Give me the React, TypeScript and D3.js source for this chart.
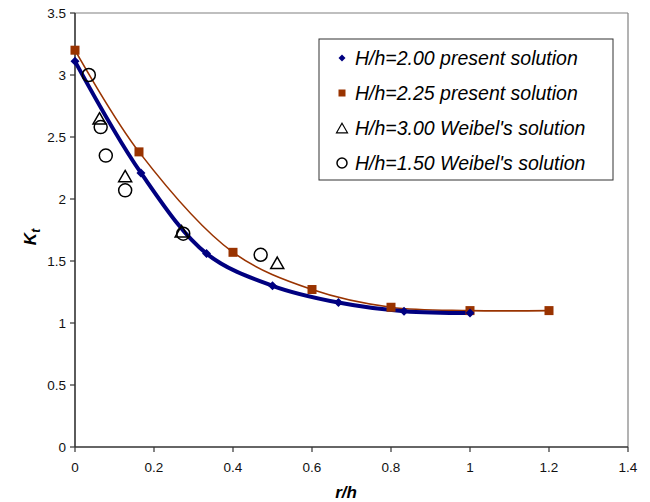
import React from "react";
import * as d3 from "d3";

const xTicks = [0, 0.2, 0.4, 0.6, 0.8, 1, 1.2, 1.4];
const yTicks = [0, 0.5, 1, 1.5, 2, 2.5, 3, 3.5];

const blueX = [0, 0.167, 0.333, 0.5, 0.667, 0.833, 1.0];
const blueY = [3.11, 2.21, 1.56, 1.3, 1.165, 1.095, 1.08];

const orangeX = [0, 0.162, 0.4, 0.6, 0.8, 1.0, 1.2];
const orangeY = [3.2, 2.38, 1.57, 1.27, 1.127, 1.1, 1.1];

const triX = [0.062, 0.127, 0.27, 0.512];
const triY = [2.65, 2.185, 1.74, 1.486];

const circX = [0.035, 0.065, 0.078, 0.127, 0.274, 0.47];
const circY = [3.0, 2.58, 2.35, 2.07, 1.72, 1.55];

const legendLabels = [
  "H/h=2.00 present solution",
  "H/h=2.25 present solution",
  "H/h=3.00 Weibel's solution",
  "H/h=1.50 Weibel's solution",
];

const BLUE = "#000080";
const ORANGE = "#993300";
const FONT = "'Liberation Sans', Arial, sans-serif";

export default function App() {
  const W = 650;
  const H = 502;
  const x = d3.scaleLinear().domain([0, 1.4]).range([75, 628]);
  const y = d3.scaleLinear().domain([0, 3.5]).range([447, 13]);
  const fmt = d3.format("~g");

  const line = d3
    .line<[number, number]>()
    .x((d) => x(d[0]))
    .y((d) => y(d[1]))
    .curve(d3.curveCatmullRom.alpha(0.5));

  const blue: [number, number][] = blueX.map((v, i) => [v, blueY[i]]);
  const orange: [number, number][] = orangeX.map((v, i) => [v, orangeY[i]]);

  const diamond = (cx: number, cy: number, r: number) =>
    `M${cx},${cy - r}L${cx + r},${cy}L${cx},${cy + r}L${cx - r},${cy}Z`;
  const triangle = (cx: number, cy: number, s: number) => {
    const h = s * 0.87;
    return `M${cx},${cy - h / 2}L${cx + s / 2},${cy + h / 2}L${cx - s / 2},${cy + h / 2}Z`;
  };

  const legX = 319;
  const legY = 39;
  const legW = 294;
  const legH = 141;
  const rowY = [58, 93, 128, 163];
  const markX = 342;
  const textX = 355;

  return (
    <svg
      width={W}
      height={H}
      style={{ position: "absolute", left: 0, top: 0, background: "#fff" }}
      fontFamily={FONT}
    >
      <rect x={0} y={0} width={W} height={H} fill="#fff" />
      {/* frame top/right */}
      <line x1={x(0)} x2={x(1.4)} y1={y(3.5)} y2={y(3.5)} stroke="#808080" strokeWidth={1.2} />
      <line x1={x(1.4)} x2={x(1.4)} y1={y(3.5)} y2={y(0)} stroke="#808080" strokeWidth={1.2} />
      {/* axes */}
      <line x1={x(0)} x2={x(0)} y1={y(3.5)} y2={y(0)} stroke="#333" strokeWidth={1.6} />
      <line x1={x(0)} x2={x(1.4)} y1={y(0)} y2={y(0)} stroke="#333" strokeWidth={1.6} />
      {yTicks.map((t) => (
        <g key={"y" + t}>
          <line x1={x(0) - 5} x2={x(0)} y1={y(t)} y2={y(t)} stroke="#333" strokeWidth={1.2} />
          <text x={x(0) - 9} y={y(t)} dy="0.35em" textAnchor="end" fontSize={13.5} fill="#111">
            {fmt(t)}
          </text>
        </g>
      ))}
      {xTicks.map((t) => (
        <g key={"x" + t}>
          <line x1={x(t)} x2={x(t)} y1={y(0)} y2={y(0) + 5} stroke="#333" strokeWidth={1.2} />
          <text x={x(t)} y={y(0) + 20} dy="0.35em" textAnchor="middle" fontSize={13.5} fill="#111">
            {fmt(t)}
          </text>
        </g>
      ))}
      {/* axis titles */}
      <text x={346} y={492} dy="0.35em" textAnchor="middle" fontSize={17} fontWeight="bold" fontStyle="italic">
        r/h
      </text>
      <text
        transform={`translate(30,237) rotate(-90)`}
        textAnchor="middle"
        fontSize={17}
        fontWeight="bold"
        fontStyle="italic"
        dy="0.35em"
      >
        K<tspan fontSize={12} dy="4">t</tspan>
      </text>

      {/* lines */}
      <path d={line(orange) || ""} fill="none" stroke={ORANGE} strokeWidth={1.6} />
      <path d={line(blue) || ""} fill="none" stroke={BLUE} strokeWidth={4} />

      {/* markers */}
      {orange.map((d, i) => (
        <rect key={"o" + i} x={x(d[0]) - 4.5} y={y(d[1]) - 4.5} width={9} height={9} fill={ORANGE} />
      ))}
      {blue.map((d, i) => (
        <path key={"b" + i} d={diamond(x(d[0]), y(d[1]), 4.5)} fill={BLUE} />
      ))}
      {triX.map((v, i) => (
        <path
          key={"t" + i}
          d={triangle(x(v), y(triY[i]), 13)}
          fill="none"
          stroke="#000"
          strokeWidth={1.5}
        />
      ))}
      {circX.map((v, i) => (
        <circle key={"c" + i} cx={x(v)} cy={y(circY[i])} r={6.5} fill="none" stroke="#000" strokeWidth={1.5} />
      ))}

      {/* legend */}
      <rect x={legX} y={legY} width={legW} height={legH} fill="#fff" stroke="#333" strokeWidth={1} />
      <path d={diamond(markX, rowY[0], 3.5)} fill={BLUE} />
      <rect x={markX - 3.5} y={rowY[1] - 3.5} width={7} height={7} fill={ORANGE} />
      <path d={triangle(markX, rowY[2], 11)} fill="none" stroke="#000" strokeWidth={1.2} />
      <circle cx={markX} cy={rowY[3]} r={5} fill="none" stroke="#000" strokeWidth={1.5} />
      {legendLabels.map((l, i) => (
        <text key={l} x={textX} y={rowY[i]} dy="0.35em" fontSize={19.5} fontStyle="italic" fill="#000">
          {l}
        </text>
      ))}
    </svg>
  );
}
